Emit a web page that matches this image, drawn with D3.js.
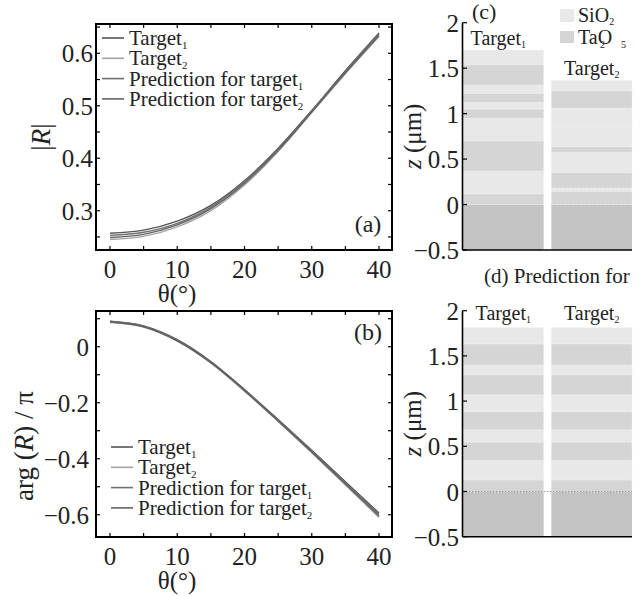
<!DOCTYPE html>
<html>
<head>
<meta charset="utf-8">
<script src="https://cdn.jsdelivr.net/npm/d3@7"></script>
<style>
  body { margin: 0; background: #fff; }
  text { font-family: "Liberation Serif", "Times New Roman", "DejaVu Serif", serif; fill: #222; }
</style>
</head>
<body>
<script>
var width = 642,
    height = 596;

// angles of incidence (deg)
var thetas = [0, 5, 10, 15, 20, 25, 30, 35, 40];

// |R|
var absTarget1 = [0.257, 0.263, 0.280, 0.310, 0.357, 0.419, 0.491, 0.567, 0.639];
var absTarget2 = [0.245, 0.251, 0.269, 0.300, 0.349, 0.413, 0.487, 0.561, 0.632];
var absPred1   = [0.253, 0.259, 0.276, 0.307, 0.355, 0.417, 0.490, 0.565, 0.637];
var absPred2   = [0.249, 0.255, 0.273, 0.304, 0.352, 0.415, 0.488, 0.563, 0.634];

// arg(R)/pi
var argTarget1 = [0.091, 0.074, 0.025, -0.053, -0.153, -0.260, -0.370, -0.482, -0.594];
var argTarget2 = [0.087, 0.070, 0.020, -0.058, -0.159, -0.267, -0.379, -0.494, -0.610];
var argPred1   = [0.090, 0.073, 0.023, -0.055, -0.155, -0.262, -0.373, -0.486, -0.599];
var argPred2   = [0.088, 0.071, 0.021, -0.057, -0.157, -0.265, -0.376, -0.490, -0.605];

var seriesNames = ["Target", "Target", "Prediction for target", "Prediction for target"];
var seriesSubs = ["1", "2", "1", "2"];
var seriesColors = ["#555", "#a3a3a3", "#6f6f6f", "#626262"];

// layer stacks, thickness in um from substrate upward, alternating Ta2O5 / SiO2
var stackTarget1 = [0.118, 0.250, 0.332, 0.250, 0.100, 0.074, 0.099, 0.092, 0.221, 0.164];
var stackTarget2 = [0.147, 0.035, 0.170, 0.222, 0.064, 0.214, 0.006, 0.202, 0.192, 0.115];
var stackPred1   = [0.129, 0.214, 0.203, 0.137, 0.202, 0.185, 0.220, 0.110, 0.234, 0.180];
var stackPred2   = [0.129, 0.214, 0.203, 0.137, 0.202, 0.185, 0.220, 0.110, 0.234, 0.180];
var stackLabels = ["Target1", "Target2"];
var materials = ["TaO", "SiO2"];

var zTicks = [-0.5, 0, 0.5, 1, 1.5, 2];

var col = {SiO2: "#e8e8e8", TaO: "#d5d5d5", sub: "#c3c3c3"};

var svg = d3.select("body").append("svg")
    .attr("width", width)
    .attr("height", height);

svg.append("rect").attr("width", width).attr("height", height).attr("fill", "#fff");

function fmt(v) {
  var s = d3.format("")(+v.toFixed(2));
  return v < 0 ? "\u2212" + s.slice(1) : s;
}

// ---------- line panels ----------
function linePanel(opt) {
  var x = d3.scaleLinear().domain([-2.08, 41.93]).range([96, 392]);
  var y = d3.scaleLinear().domain(opt.ydom).range([opt.bottom, opt.top]);
  var g = svg.append("g");

  var line = d3.line()
    .x(function(d, i) { return x(thetas[i]); })
    .y(function(d) { return y(d); })
    .curve(d3.curveCatmullRom);

  opt.series.forEach(function(s, i) {
    g.append("path").datum(s)
      .attr("d", line)
      .attr("fill", "none")
      .attr("stroke", seriesColors[i])
      .attr("stroke-width", 1.4);
  });

  // inward ticks on all sides
  var xt = d3.range(0, 41, 5);
  xt.forEach(function(t) {
    [opt.bottom, opt.top].forEach(function(yy, k) {
      g.append("line")
        .attr("x1", x(t)).attr("x2", x(t))
        .attr("y1", yy).attr("y2", k ? yy + 4 : yy - 4)
        .attr("stroke", "#000").attr("stroke-width", 1.2);
    });
  });
  opt.yminor.forEach(function(t) {
    [96, 392].forEach(function(xx, k) {
      g.append("line")
        .attr("y1", y(t)).attr("y2", y(t))
        .attr("x1", xx).attr("x2", k ? xx - 4 : xx + 4)
        .attr("stroke", "#000").attr("stroke-width", 1.2);
    });
  });

  g.append("rect")
    .attr("x", 96).attr("y", opt.top)
    .attr("width", 392 - 96).attr("height", opt.bottom - opt.top)
    .attr("fill", "none").attr("stroke", "#000").attr("stroke-width", 2);

  // tick labels
  d3.range(0, 41, 10).forEach(function(t) {
    g.append("text").attr("x", x(t)).attr("y", opt.bottom + 28)
      .attr("text-anchor", "middle").style("font-size", "25px").text(t);
  });
  opt.ymajor.forEach(function(t) {
    g.append("text").attr("x", opt.ylabX).attr("y", y(t) + 9)
      .attr("text-anchor", "end").style("font-size", "25px").text(fmt(t));
  });

  g.append("text").attr("x", 177).attr("y", opt.bottom + 52)
    .attr("text-anchor", "middle").style("font-size", "25px").text("\u03b8(\u00b0)");

  // legend
  seriesNames.forEach(function(n, i) {
    var yy = opt.legY + i * 20.3;
    g.append("line")
      .attr("x1", opt.legX).attr("x2", opt.legX + 22)
      .attr("y1", yy - 7).attr("y2", yy - 7)
      .attr("stroke", seriesColors[i]).attr("stroke-width", 1.6);
    var t = g.append("text").attr("x", opt.legX + 27).attr("y", yy)
      .style("font-size", "21px").text(n);
    t.append("tspan").attr("dy", 4).style("font-size", "11px").text(seriesSubs[i]);
  });

  g.append("text").attr("x", 368).attr("y", opt.panelY)
    .attr("text-anchor", "middle").style("font-size", "24px").text(opt.panel);
  return g;
}

linePanel({
  top: 24, bottom: 250, ydom: [0.2251, 0.6559],
  series: [absTarget1, absTarget2, absPred1, absPred2],
  ymajor: [0.3, 0.4, 0.5, 0.6],
  yminor: d3.range(0.25, 0.651, 0.05),
  ylabX: 93, legX: 102, legY: 45, panel: "(a)", panelY: 232
});
svg.append("text")
  .attr("transform", "translate(50,137) rotate(-90)")
  .attr("text-anchor", "middle").style("font-size", "27px")
  .html('|<tspan font-style="italic">R</tspan>|');

linePanel({
  top: 311, bottom: 537, ydom: [-0.6796, 0.1275],
  series: [argTarget1, argTarget2, argPred1, argPred2],
  ymajor: [-0.6, -0.4, -0.2, 0],
  yminor: d3.range(-0.6, 0.11, 0.1),
  ylabX: 89, legX: 111, legY: 454, panel: "(b)", panelY: 340
});
svg.append("text")
  .attr("transform", "translate(33,446) rotate(-90)")
  .attr("text-anchor", "middle").style("font-size", "27px")
  .html('arg (<tspan font-style="italic">R</tspan>) / \u03c0');

// ---------- layer panels ----------
function stackPanel(opt) {
  var x = d3.scaleBand().domain(stackLabels).range([463, 632])
    .paddingInner(0.087).paddingOuter(0);
  var y = d3.scaleLinear().domain([-0.5, 2]).range([opt.bottom, opt.top]);
  var g = svg.append("g");

  opt.stacks.forEach(function(stack, si) {
    var bx = x(stackLabels[si]), bw = x.bandwidth();
    g.append("rect")
      .attr("x", bx).attr("width", bw)
      .attr("y", y(0)).attr("height", y(-0.5) - y(0))
      .attr("fill", col.sub);
    var z = 0;
    stack.forEach(function(th, i) {
      var m = materials[i % 2];
      g.append("rect")
        .attr("x", bx).attr("width", bw)
        .attr("y", y(z + th)).attr("height", y(z) - y(z + th))
        .attr("fill", col[m])
        .attr("stroke", "#f2f2f2").attr("stroke-width", 0.6)
        .attr("stroke-dasharray", "2,2");
      z += th;
    });
    g.append("text")
      .attr("x", bx + bw / 2 + opt.labDx[si]).attr("y", opt.labY[si])
      .attr("text-anchor", "middle").style("font-size", "20px")
      .text("Target")
      .append("tspan").attr("dy", 3).style("font-size", "10px").text(si + 1);
  });

  if (opt.zeroLine) {
    g.append("line")
      .attr("x1", 463).attr("x2", 632).attr("y1", y(0)).attr("y2", y(0))
      .attr("stroke", "#999").attr("stroke-width", 1.2)
      .attr("stroke-dasharray", "1.5,1.5");
  }

  // axes
  g.append("line").attr("x1", 462.5).attr("x2", 462.5)
    .attr("y1", y(2)).attr("y2", y(-0.5))
    .attr("stroke", "#000").attr("stroke-width", 1.6);
  g.append("line").attr("x1", 462.5).attr("x2", 632)
    .attr("y1", y(-0.5)).attr("y2", y(-0.5))
    .attr("stroke", "#000").attr("stroke-width", 1.6);
  zTicks.forEach(function(t) {
    g.append("line").attr("x1", 462.5).attr("x2", 467)
      .attr("y1", y(t)).attr("y2", y(t))
      .attr("stroke", "#000").attr("stroke-width", 1.2);
    g.append("text").attr("x", 459).attr("y", y(t) + 9)
      .attr("text-anchor", "end").style("font-size", "25px").text(fmt(t));
  });

  g.append("text")
    .attr("transform", "translate(" + 421 + "," + (y(0.75)) + ") rotate(-90)")
    .attr("text-anchor", "middle").style("font-size", "25px")
    .html('<tspan font-style="italic">z</tspan> (\u03bcm)');
  return g;
}

stackPanel({
  top: 22.7, bottom: 250,
  stacks: [stackTarget1, stackTarget2],
  labY: [45, 75], labDx: [-5, 0], zeroLine: false
});
stackPanel({
  top: 310.7, bottom: 536.7,
  stacks: [stackPred1, stackPred2],
  labY: [320, 320], labDx: [0, 0], zeroLine: true
});

svg.append("text").attr("x", 472).attr("y", 19).style("font-size", "22px").text("(c)");
svg.append("text").attr("x", 484).attr("y", 283).style("font-size", "21px").text("(d)  Prediction for");

// legend for materials
svg.append("rect").attr("x", 560).attr("y", 9).attr("width", 14).attr("height", 13).attr("fill", col.SiO2);
svg.append("rect").attr("x", 560).attr("y", 31).attr("width", 14).attr("height", 12).attr("fill", col.TaO);
var l1 = svg.append("text").attr("x", 578).attr("y", 22).style("font-size", "20px").text("SiO");
l1.append("tspan").attr("dy", 3).style("font-size", "10px").text("2");
svg.append("text").attr("x", 578).attr("y", 44).style("font-size", "20px").text("TaO");
svg.append("text").attr("x", 600).attr("y", 48).style("font-size", "10px").text("2");
svg.append("text").attr("x", 621).attr("y", 48).style("font-size", "10px").text("5");
</script>
</body>
</html>
